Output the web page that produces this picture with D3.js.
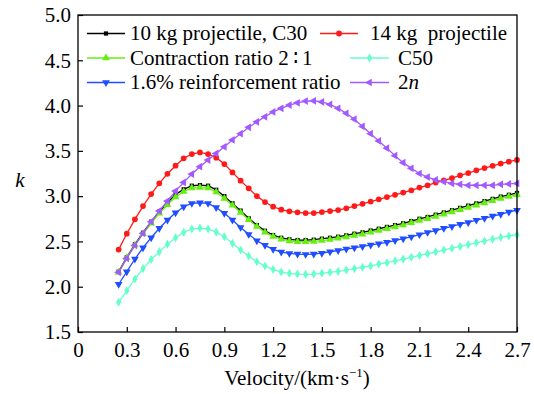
<!DOCTYPE html>
<html><head><meta charset="utf-8">
<script src="https://cdn.jsdelivr.net/npm/d3@7"></script>
<style>
body{margin:0;background:#fff}
svg{display:block}
</style>
</head><body>
<svg id="chart" width="534" height="394" style="font-family:'Liberation Serif','Times New Roman',Times,serif"></svg>
<script>
// ---------- data ----------
const velocity = [0.25,0.30,0.35,0.40,0.45,0.50,0.55,0.60,0.65,0.70,0.75,0.80,0.85,0.90,0.95,1.00,1.05,1.10,1.15,1.20,1.25,1.30,1.35,1.40,1.45,1.50,1.55,1.60,1.65,1.70,1.75,1.80,1.85,1.90,1.95,2.00,2.05,2.10,2.15,2.20,2.25,2.30,2.35,2.40,2.45,2.50,2.55,2.60,2.65,2.70];

const kC30 = [2.166,2.325,2.468,2.596,2.718,2.828,2.927,3.02,3.075,3.115,3.122,3.115,3.07,3.0,2.92,2.84,2.755,2.68,2.618,2.57,2.54,2.523,2.515,2.515,2.519,2.53,2.54,2.552,2.567,2.585,2.60,2.62,2.64,2.66,2.68,2.70,2.725,2.75,2.77,2.795,2.82,2.845,2.87,2.895,2.92,2.945,2.97,2.995,3.015,3.035];

const k14kg = [2.41,2.585,2.744,2.89,3.023,3.141,3.247,3.336,3.417,3.465,3.483,3.465,3.425,3.354,3.262,3.17,3.086,3.0,2.935,2.883,2.85,2.832,2.821,2.813,2.813,2.824,2.835,2.846,2.865,2.89,2.915,2.94,2.965,2.99,3.015,3.04,3.065,3.095,3.12,3.15,3.175,3.20,3.23,3.255,3.285,3.31,3.335,3.36,3.38,3.40];

const kContraction = [2.16,2.32,2.46,2.585,2.70,2.81,2.905,2.99,3.05,3.09,3.095,3.09,3.045,2.975,2.90,2.82,2.74,2.665,2.60,2.555,2.525,2.505,2.497,2.497,2.50,2.51,2.52,2.535,2.55,2.565,2.58,2.60,2.62,2.64,2.66,2.68,2.705,2.73,2.75,2.775,2.80,2.825,2.85,2.875,2.90,2.925,2.95,2.975,2.995,3.015];

const kC50 = [1.828,1.956,2.085,2.2,2.30,2.386,2.47,2.54,2.60,2.637,2.648,2.637,2.603,2.552,2.479,2.405,2.339,2.276,2.228,2.192,2.162,2.148,2.14,2.137,2.14,2.148,2.159,2.17,2.184,2.20,2.215,2.23,2.25,2.265,2.285,2.305,2.325,2.345,2.365,2.385,2.405,2.425,2.445,2.465,2.485,2.505,2.525,2.545,2.56,2.575];

const kReinf = [2.027,2.166,2.306,2.43,2.541,2.645,2.736,2.817,2.883,2.92,2.927,2.92,2.874,2.81,2.736,2.655,2.578,2.508,2.457,2.413,2.383,2.368,2.36,2.357,2.36,2.37,2.386,2.40,2.416,2.43,2.445,2.46,2.475,2.49,2.51,2.53,2.55,2.575,2.60,2.62,2.645,2.665,2.69,2.71,2.735,2.755,2.78,2.80,2.825,2.845];

const k2n = [2.159,2.313,2.457,2.589,2.718,2.836,2.946,3.056,3.152,3.244,3.325,3.398,3.472,3.545,3.62,3.69,3.76,3.82,3.876,3.93,3.97,4.005,4.03,4.05,4.053,4.04,4.013,3.97,3.914,3.85,3.77,3.69,3.61,3.53,3.446,3.37,3.307,3.25,3.21,3.18,3.16,3.14,3.13,3.12,3.12,3.12,3.12,3.13,3.135,3.14];

const xTicks = [0,0.3,0.6,0.9,1.2,1.5,1.8,2.1,2.4,2.7];
const yTicks = [1.5,2.0,2.5,3.0,3.5,4.0,4.5,5.0];

const seriesNames = ["10 kg projectile, C30","14 kg  projectile","Contraction ratio 2\u2009\u2236\u20091","C50","1.6% reinforcement ratio","2n"];
const seriesValues = [kC30,k14kg,kContraction,kC50,kReinf,k2n];

// ---------- styles ----------
const FONT = "'Liberation Serif','Times New Roman',Times,serif";
const colors = ["#000000","#ff1a1a","#66ee11","#66ffcc","#1f4dff","#a259ff"];
const symbols = [
  {type:d3.symbolSquare, size:18, rot:0},
  {type:d3.symbolCircle, size:26, rot:0},
  {type:d3.symbolTriangle, size:26, rot:0},
  {type:d3.symbolDiamond, size:24, rot:0},
  {type:d3.symbolTriangle, size:26, rot:180},
  {type:d3.symbolTriangle, size:26, rot:-90}
];

const svg = d3.select("#chart");
const L=78, R=517, T=15, B=332;
const x = d3.scaleLinear().domain([0,2.7]).range([L,R]);
const y = d3.scaleLinear().domain([1.5,5.0]).range([B,T]);
const FS = 21;

// axes
const xAxis = d3.axisBottom(x).tickValues(xTicks).tickSize(-5).tickSizeOuter(0).tickPadding(10)
  .tickFormat(d => d===0 ? "0" : d3.format(".1f")(d));
const gx = svg.append("g").attr("transform",`translate(0,${B})`).call(xAxis);
const yAxis = d3.axisLeft(y).tickValues(yTicks).tickSize(-5).tickSizeOuter(0).tickPadding(7)
  .tickFormat(d3.format(".1f"));
const gy = svg.append("g").attr("transform",`translate(${L},0)`).call(yAxis);
[gx,gy].forEach(g=>{
  g.attr("font-family",null).attr("font-size",null);
  g.select(".domain").remove();
  g.selectAll("line").attr("stroke","#000").attr("stroke-width",1.2);
  g.selectAll("text").style("font-family",FONT).style("font-size",FS+"px").attr("fill","#000");
});

// series
const line = d3.line().x((d,i)=>x(velocity[i])).y(d=>y(d)).curve(d3.curveLinear);
const plot = svg.append("g");
seriesValues.forEach((vals,si)=>{
  plot.append("path").datum(vals).attr("d",line)
    .attr("fill","none").attr("stroke",colors[si]).attr("stroke-width",1.3);
  const sym = d3.symbol().type(symbols[si].type).size(symbols[si].size);
  plot.selectAll(null).data(vals).enter().append("path")
    .attr("d",sym)
    .attr("transform",(d,i)=>`translate(${x(velocity[i])},${y(d)}) rotate(${symbols[si].rot})`)
    .attr("fill",colors[si]);
});

// frame
svg.append("rect").attr("x",L).attr("y",T).attr("width",R-L).attr("height",B-T)
  .attr("fill","none").attr("stroke","#000").attr("stroke-width",1.3);

// legend
const legendPos = [
  {lx:87, ly:33.5, lw:38, tx:130},
  {lx:320, ly:33.5, lw:38, tx:370},
  {lx:87, ly:58, lw:38, tx:130},
  {lx:350, ly:58, lw:39, tx:398},
  {lx:87, ly:82.5, lw:38, tx:130},
  {lx:350, ly:82.5, lw:39, tx:398}
];
const lg = svg.append("g");
seriesNames.forEach((name,si)=>{
  const p = legendPos[si];
  lg.append("line").attr("x1",p.lx).attr("x2",p.lx+p.lw).attr("y1",p.ly).attr("y2",p.ly)
    .attr("stroke",colors[si]).attr("stroke-width",1.3);
  const sym = d3.symbol().type(symbols[si].type).size(symbols[si].size);
  lg.append("path").attr("d",sym)
    .attr("transform",`translate(${p.lx+p.lw/2},${p.ly}) rotate(${symbols[si].rot})`)
    .attr("fill",colors[si]);
  const t = lg.append("text").attr("x",p.tx).attr("y",p.ly+6.5)
    .style("font-family",FONT).style("font-size",FS+"px").style("white-space","pre");
  if (name === "2n") {
    t.append("tspan").text("2");
    t.append("tspan").style("font-style","italic").text("n");
  } else {
    t.text(name);
  }
});

// axis titles
const xt = svg.append("text").attr("x",297).attr("y",385).attr("text-anchor","middle")
  .style("font-family",FONT).style("font-size",FS+"px");
xt.append("tspan").text("Velocity/(km\u00b7s");
xt.append("tspan").attr("dy",-8).style("font-size","13px").text("\u22121");
xt.append("tspan").attr("dy",8).text(")");

svg.append("text").attr("x",20).attr("y",187).attr("text-anchor","middle")
  .style("font-family",FONT).style("font-size",FS+"px").style("font-style","italic").text("k");
</script>
</body></html>
